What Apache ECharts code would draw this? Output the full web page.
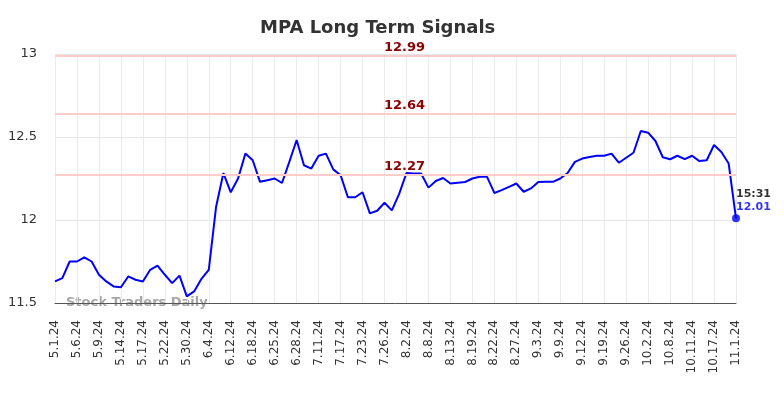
<!DOCTYPE html>
<html>
<head>
<meta charset="utf-8">
<script src="https://cdn.jsdelivr.net/npm/echarts@6/dist/echarts.min.js"></script>
<style>
  html, body { margin: 0; padding: 0; background: #fff; }
  #chart { width: 784px; height: 398px; }
</style>
</head>
<body>
<div id="chart"></div>
<script>
// 日期（每3个显示一个标签）
const dates = [
  '5.1.24', '5.2.24', '5.3.24', '5.6.24', '5.7.24', '5.8.24', '5.9.24', '5.10.24', '5.13.24', '5.14.24',
  '5.15.24', '5.16.24', '5.17.24', '5.20.24', '5.21.24', '5.22.24', '5.24.24', '5.28.24', '5.30.24', '5.31.24',
  '6.3.24', '6.4.24', '6.6.24', '6.10.24', '6.12.24', '6.13.24', '6.17.24', '6.18.24', '6.20.24', '6.24.24',
  '6.25.24', '6.26.24', '6.27.24', '6.28.24', '7.3.24', '7.9.24', '7.11.24', '7.12.24', '7.16.24', '7.17.24',
  '7.18.24', '7.22.24', '7.23.24', '7.24.24', '7.25.24', '7.26.24', '7.30.24', '8.1.24', '8.2.24', '8.5.24',
  '8.6.24', '8.8.24', '8.9.24', '8.12.24', '8.13.24', '8.14.24', '8.16.24', '8.19.24', '8.20.24', '8.21.24',
  '8.22.24', '8.23.24', '8.26.24', '8.27.24', '8.29.24', '8.30.24', '9.3.24', '9.5.24', '9.6.24', '9.9.24',
  '9.10.24', '9.11.24', '9.12.24', '9.16.24', '9.17.24', '9.19.24', '9.23.24', '9.24.24', '9.26.24', '9.27.24',
  '9.30.24', '10.2.24', '10.3.24', '10.7.24', '10.8.24', '10.9.24', '10.10.24', '10.11.24', '10.15.24', '10.16.24',
  '10.17.24', '10.22.24', '10.28.24', '11.1.24'
]

// 价格
const prices = [
  11.63, 11.65, 11.75, 11.75, 11.775, 11.75, 11.67, 11.63, 11.60, 11.595,
  11.66, 11.64, 11.63, 11.70, 11.725, 11.67, 11.62, 11.665, 11.54, 11.57,
  11.646, 11.70, 12.08, 12.283, 12.167, 12.25, 12.40, 12.36, 12.23, 12.24,
  12.25, 12.223, 12.35, 12.482, 12.33, 12.31, 12.387, 12.40, 12.305, 12.27,
  12.137, 12.137, 12.167, 12.04, 12.056, 12.104, 12.058, 12.157, 12.283, 12.28,
  12.28, 12.195, 12.235, 12.253, 12.22, 12.225, 12.229, 12.25, 12.26, 12.26,
  12.163, 12.18, 12.20, 12.22, 12.17, 12.19, 12.229, 12.23, 12.23, 12.25,
  12.283, 12.35, 12.37, 12.38, 12.387, 12.387, 12.40, 12.345, 12.375, 12.405,
  12.536, 12.526, 12.476, 12.378, 12.366, 12.387, 12.367, 12.387, 12.355, 12.36,
  12.452, 12.41, 12.34, 12.01
]

// 信号线
const signalLevels = [12.99, 12.64, 12.27]

// Y轴刻度
const yMin = 11.5
const yMax = 13
const yStep = 0.5

const lastTime = '15:31'

const chartInstance = echarts.init(document.getElementById('chart'))

const lastIndex = prices.length - 1

chartInstance.setOption({
  animation: false,
  textStyle: { fontFamily: 'DejaVu Sans' },
  title: {
    text: 'MPA Long Term Signals',
    left: 255,
    top: 14,
    textStyle: {
      fontSize: 18,
      fontWeight: 'bold',
      color: '#333333',
      fontFamily: 'DejaVu Sans'
    }
  },
  grid: {
    left: 55,
    right: 48,
    top: 54,
    bottom: 95
  },
  xAxis: {
    type: 'category',
    boundaryGap: false,
    data: dates,
    axisLine: { show: true, lineStyle: { color: '#555555', width: 1 } },
    axisTick: { show: false },
    axisLabel: {
      interval: 2,
      rotate: 90,
      fontSize: 12,
      color: '#333333',
      margin: 17
    },
    splitLine: {
      show: true,
      interval: 2,
      lineStyle: { color: '#ebebeb', width: 1 }
    }
  },
  yAxis: {
    type: 'value',
    min: yMin,
    max: yMax,
    interval: yStep,
    axisLine: { show: false },
    axisTick: { show: false },
    axisLabel: {
      fontSize: 13,
      color: '#333333',
      margin: 18
    },
    splitLine: {
      lineStyle: { color: '#e6e6e6', width: 1 }
    }
  },
  graphic: [
    {
      type: 'text',
      left: 66,
      top: 296,
      style: {
        text: 'Stock Traders Daily',
        font: 'bold 13px "DejaVu Sans"',
        fill: 'rgba(150,150,150,0.85)'
      }
    }
  ],
  series: [
    {
      name: 'MPA',
      type: 'line',
      data: prices,
      showSymbol: false,
      lineStyle: { color: '#0000ff', width: 2 },
      itemStyle: { color: '#0000ff' },
      markLine: {
        silent: true,
        symbol: 'none',
        lineStyle: { color: '#ffcccc', width: 2, type: 'solid' },
        label: {
          position: 'insideMiddleTop',
          formatter: p => p.value.toFixed(2),
          color: '#8b0000',
          fontWeight: 'bold',
          fontSize: 13,
          padding: [0, 0, 0, 18],
          distance: 2
        },
        data: signalLevels.map(v => ({ yAxis: v }))
      },
      z: 3
    },
    {
      name: 'last',
      type: 'scatter',
      symbol: 'circle',
      symbolSize: 8,
      itemStyle: { color: '#0000ff' },
      data: [[lastIndex, prices[lastIndex]]],
      label: {
        show: true,
        position: [4, -27],
        align: 'left',
        verticalAlign: 'top',
        formatter: () => '{t|' + lastTime + '}\n{v|' + prices[lastIndex].toFixed(2) + '}',
        rich: {
          t: { color: '#000000', fontWeight: 'bold', fontSize: 11, lineHeight: 13 },
          v: { color: '#0000ff', fontWeight: 'bold', fontSize: 11, lineHeight: 13 }
        }
      },
      z: 4
    }
  ]
})

window.addEventListener('resize', () => chartInstance.resize())
</script>
</body>
</html>
